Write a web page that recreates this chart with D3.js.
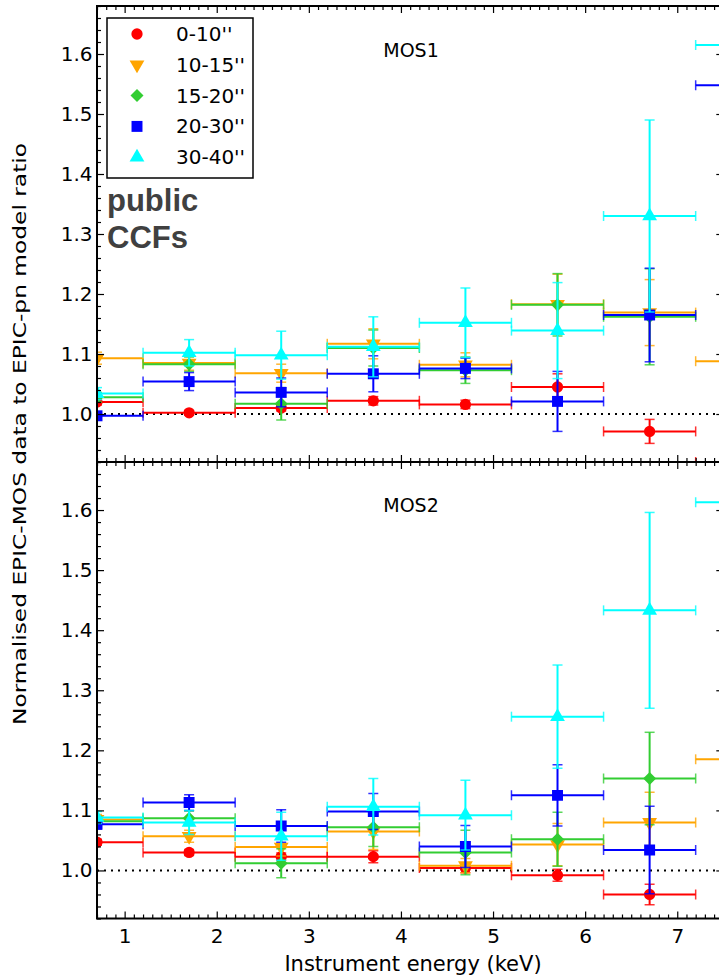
<!DOCTYPE html>
<html>
<head>
<meta charset="utf-8">
<script src="https://cdn.jsdelivr.net/npm/d3@7"></script>
<style>
  body { margin: 0; background: #fff; }
  svg { display: block; }
  .tick text { font-family: "DejaVu Sans", sans-serif; font-size: 20px; fill: #000; }
</style>
</head>
<body>
<div id="chart"></div>
<script>
// bin centres (keV), each bin 1 keV wide
const energies = [0.7, 1.7, 2.7, 3.7, 4.7, 5.7, 6.7, 7.7];
const halfWidth = 0.5;

const seriesNames = ["0-10''", "10-15''", "15-20''", "20-30''", "30-40''"];
const colors = ["#ff0000", "#ffa500", "#32cd32", "#0000ff", "#00ffff"];
const symbols = ["circle", "triangleDown", "diamond", "square", "triangle"];

// MOS1 ratios and errors, one row per annulus
const mos1Values = [
  [1.020, 1.002, 1.010, 1.022, 1.016, 1.045, 0.971, 0.920],
  [1.093, 1.085, 1.068, 1.117, 1.082, 1.183, 1.169, 1.088],
  [1.028, 1.083, 1.017, 1.110, 1.073, 1.182, 1.162, null],
  [0.997, 1.054, 1.036, 1.067, 1.076, 1.021, 1.165, 1.548],
  [1.034, 1.102, 1.098, 1.112, 1.152, 1.139, 1.330, 1.615]
];
const mos1Errors = [
  [0.005, 0.004, 0.005, 0.007, 0.007, 0.022, 0.020, 0.030],
  [0.010, 0.012, 0.015, 0.025, 0.020, 0.050, 0.055, 0.060],
  [0.008, 0.012, 0.027, 0.030, 0.022, 0.052, 0.080, null],
  [0.006, 0.015, 0.024, 0.030, 0.017, 0.050, 0.078, 0.100],
  [0.010, 0.022, 0.040, 0.050, 0.058, 0.080, 0.160, 0.200]
];

// MOS2 ratios and errors
const mos2Values = [
  [1.047, 1.030, 1.023, 1.023, 1.004, 0.992, 0.960, null],
  [1.085, 1.057, 1.039, 1.065, 1.008, 1.043, 1.080, 1.185],
  [1.082, 1.087, 1.012, 1.072, 1.030, 1.052, 1.153, null],
  [1.077, 1.113, 1.074, 1.098, 1.040, 1.125, 1.034, null],
  [1.088, 1.080, 1.057, 1.106, 1.092, 1.256, 1.433, 1.613]
];
const mos2Errors = [
  [0.005, 0.005, 0.006, 0.010, 0.008, 0.010, 0.017, null],
  [0.008, 0.010, 0.015, 0.030, 0.012, 0.035, 0.050, 0.060],
  [0.008, 0.012, 0.024, 0.032, 0.037, 0.045, 0.077, null],
  [0.008, 0.013, 0.027, 0.030, 0.035, 0.051, 0.073, null],
  [0.010, 0.020, 0.040, 0.047, 0.058, 0.086, 0.163, 0.200]
];

const xTickValues = [1, 2, 3, 4, 5, 6, 7];
const yTickValues = [1.0, 1.1, 1.2, 1.3, 1.4, 1.5, 1.6];

const W = 719, H = 977;
const left = 97, right = 723.3;
const panels = [
  { top: 6, bottom: 462, label: "MOS1", values: mos1Values, errors: mos1Errors, labelY: 57 },
  { top: 462, bottom: 918.5, label: "MOS2", values: mos2Values, errors: mos2Errors, labelY: 512 }
];

const svg = d3.select("#chart").append("svg")
  .attr("width", W)
  .attr("height", H);

const x = d3.scaleLinear().domain([0.7, 7.5]).range([left, right]);

const xMinor = d3.range(7, 76).map(d => d / 10).filter(d => Math.abs(d - Math.round(d)) > 1e-6);
const yMinor = d3.range(46, 85).map(d => d / 50).filter(d => Math.abs(d * 10 - Math.round(d * 10)) > 1e-6);

// diamond drawn as a square turned 45 degrees (matplotlib style 'D')
const symbolTypes = {
  circle: d3.symbolCircle,
  square: d3.symbolSquare,
  diamond: d3.symbolSquare,
  triangle: d3.symbolTriangle,
  triangleDown: d3.symbolTriangle
};
const symbolSizes = { circle: 100, square: 120, diamond: 85, triangle: 95, triangleDown: 95 };
const symbolRotate = { triangleDown: 180, diamond: 45 };

function symbolPath(s) {
  return d3.symbol().type(symbolTypes[s]).size(symbolSizes[s])();
}
function symbolTransform(s, cx, cy) {
  return `translate(${cx},${cy})` + (symbolRotate[s] ? ` rotate(${symbolRotate[s]})` : "");
}

panels.forEach((p, pi) => {
  const y = d3.scaleLinear().domain([0.92, 1.68]).range([p.bottom, p.top]);
  const g = svg.append("g");

  const clipId = "clip" + pi;
  svg.append("clipPath").attr("id", clipId)
    .append("rect")
    .attr("x", left).attr("y", p.top)
    .attr("width", right - left).attr("height", p.bottom - p.top);

  // dotted line at ratio 1
  g.append("line")
    .attr("x1", left).attr("x2", right)
    .attr("y1", y(1)).attr("y2", y(1))
    .attr("stroke", "#000")
    .attr("stroke-width", 2)
    .attr("stroke-dasharray", "2,5");

  const plot = g.append("g").attr("clip-path", `url(#${clipId})`);

  p.values.forEach((row, si) => {
    const col = colors[si];
    const sg = plot.append("g");
    row.forEach((v, i) => {
      if (v === null) return;
      const e = p.errors[si][i];
      const cx = x(energies[i]);
      const cy = y(v);
      const x0 = x(energies[i] - halfWidth), x1 = x(energies[i] + halfWidth);
      // horizontal bar
      sg.append("line").attr("x1", x0).attr("x2", x1).attr("y1", cy).attr("y2", cy)
        .attr("stroke", col).attr("stroke-width", 2);
      [x0, x1].forEach(xx => sg.append("line")
        .attr("x1", xx).attr("x2", xx).attr("y1", cy - 5).attr("y2", cy + 5)
        .attr("stroke", col).attr("stroke-width", 1.5).attr("stroke-opacity", 0.8));
      // vertical error
      sg.append("line").attr("x1", cx).attr("x2", cx).attr("y1", y(v - e)).attr("y2", y(v + e))
        .attr("stroke", col).attr("stroke-width", 2);
      [v - e, v + e].forEach(yy => sg.append("line")
        .attr("x1", cx - 5).attr("x2", cx + 5).attr("y1", y(yy)).attr("y2", y(yy))
        .attr("stroke", col).attr("stroke-width", 1.5).attr("stroke-opacity", 0.8));
      sg.append("path")
        .attr("d", symbolPath(symbols[si]))
        .attr("transform", symbolTransform(symbols[si], cx, cy))
        .attr("fill", col);
    });
  });

  // axes: inward ticks on all four sides
  const bottomAxis = d3.axisBottom(x).tickValues(xTickValues).tickSize(-7).tickPadding(10)
    .tickFormat(pi === 1 ? d3.format("d") : "");
  g.append("g").attr("transform", `translate(0,${p.bottom})`).call(bottomAxis);
  g.append("g").attr("transform", `translate(0,${p.bottom})`)
    .call(d3.axisBottom(x).tickValues(xMinor).tickSize(-4).tickFormat(""));
  g.append("g").attr("transform", `translate(0,${p.top})`)
    .call(d3.axisTop(x).tickValues(xTickValues).tickSize(-7).tickFormat(""));
  g.append("g").attr("transform", `translate(0,${p.top})`)
    .call(d3.axisTop(x).tickValues(xMinor).tickSize(-4).tickFormat(""));

  g.append("g").attr("transform", `translate(${left},0)`)
    .call(d3.axisLeft(y).tickValues(yTickValues).tickSize(-7).tickPadding(4.5).tickFormat(d3.format(".1f")));
  g.append("g").attr("transform", `translate(${left},0)`)
    .call(d3.axisLeft(y).tickValues(yMinor).tickSize(-4).tickFormat(""));
  g.append("g").attr("transform", `translate(${right},0)`)
    .call(d3.axisRight(y).tickValues(yTickValues).tickSize(-7).tickFormat(""));
  g.append("g").attr("transform", `translate(${right},0)`)
    .call(d3.axisRight(y).tickValues(yMinor).tickSize(-4).tickFormat(""));

  g.selectAll(".domain").remove();
  g.selectAll(".tick line").attr("stroke", "#000").attr("stroke-width", 1.2);

  // frame
  g.append("rect")
    .attr("x", left).attr("y", p.top)
    .attr("width", right - left).attr("height", p.bottom - p.top)
    .attr("fill", "none").attr("stroke", "#000").attr("stroke-width", 2);

  g.append("text")
    .attr("x", 411).attr("y", p.labelY)
    .attr("text-anchor", "middle")
    .style("font-family", "DejaVu Sans")
    .style("font-size", "19px")
    .text(p.label);
});

// legend
const legend = svg.append("g");
legend.append("rect")
  .attr("x", 107).attr("y", 18).attr("width", 146).attr("height", 160)
  .attr("fill", "#fff").attr("stroke", "#000").attr("stroke-width", 1.5);
seriesNames.forEach((name, i) => {
  const ly = 34 + i * 30.8;
  legend.append("path")
    .attr("d", symbolPath(symbols[i]))
    .attr("transform", symbolTransform(symbols[i], 137, ly))
    .attr("fill", colors[i]);
  legend.append("text")
    .attr("x", 176).attr("y", ly + 7)
    .style("font-family", "DejaVu Sans")
    .style("font-size", "20px")
    .text(name);
});

// "public CCFs" note
const note = svg.append("text")
  .style("font-family", "Liberation Sans, Arial, sans-serif")
  .style("font-weight", "bold")
  .style("font-size", "31px")
  .attr("fill", "#404040");
note.append("tspan").attr("x", 107).attr("y", 211).text("public");
note.append("tspan").attr("x", 107).attr("y", 248).text("CCFs");

// axis titles
svg.append("text")
  .attr("x", 413).attr("y", 971)
  .attr("text-anchor", "middle")
  .style("font-family", "DejaVu Sans")
  .style("font-size", "21px")
  .text("Instrument energy (keV)");

svg.append("text")
  .attr("transform", "translate(26,434) rotate(-90)")
  .attr("text-anchor", "middle")
  .attr("textLength", 582)
  .attr("lengthAdjust", "spacingAndGlyphs")
  .style("font-family", "Liberation Sans Narrow, DejaVu Sans Condensed, sans-serif")
  .style("font-size", "18px")
  .text("Normalised EPIC-MOS data to EPIC-pn model ratio");
</script>
</body>
</html>
